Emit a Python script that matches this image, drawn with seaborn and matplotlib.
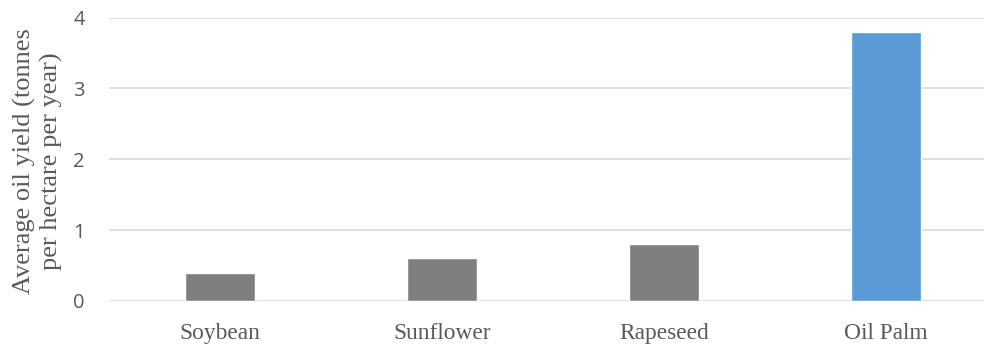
import matplotlib
matplotlib.use("Agg")
import matplotlib.pyplot as plt
import seaborn as sns

crops = ["Soybean", "Sunflower", "Rapeseed", "Oil Palm"]
yields = [0.4, 0.6, 0.8, 3.8]
bar_colors = ["#7f7f7f", "#7f7f7f", "#7f7f7f", "#5b9bd5"]
y_ticks = [0, 1, 2, 3, 4]

sns.set_theme(style="white")
plt.rcParams["font.family"] = ["DejaVu Sans"]

fig = plt.figure(figsize=(9.84, 3.44), dpi=100)
ax = fig.add_axes([108.5 / 984, 1 - 301 / 344, (984 - 108.5) / 984, (301 - 17.5) / 344])

sns.barplot(x=crops, y=yields, hue=crops, palette=bar_colors, legend=False,
            width=0.315, saturation=1, ax=ax, zorder=3)

ax.set_ylim(0, 4)
ax.set_xlim(-0.5, 3.5 - 13 / 222)
ax.set_yticks(y_ticks)
ax.set_yticklabels([str(t) for t in y_ticks], fontfamily="Open Sans",
                   fontsize=14.5, color="#595959")
ax.set_xticks(range(len(crops)))
ax.set_xticklabels(crops, fontfamily="Liberation Serif", fontsize=16.8, color="#595959")
ax.tick_params(axis="both", length=0)
ax.tick_params(axis="y", pad=17)
ax.tick_params(axis="x", pad=16)
ax.grid(axis="y", color="#d9d9d9", linewidth=1.2, zorder=0)
ax.set_axisbelow(True)
for s in ax.spines.values():
    s.set_visible(False)
ax.set_xlabel("")
ax.set_ylabel("")

fig.text(38 / 984, 1 - 161 / 344, "Average oil yield (tonnes\nper hectare per year)",
         rotation=90, ha="center", va="center", multialignment="center",
         fontfamily="Liberation Serif", fontsize=19, color="#595959", linespacing=1.2)

fig.savefig("out.png", dpi=100)
